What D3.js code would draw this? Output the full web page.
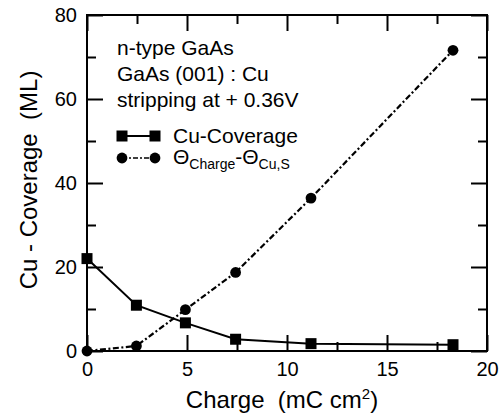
<!DOCTYPE html>
<html lang="en">
<meta charset="UTF-8">
<style>
    body { margin: 0; background: #fff; }
    svg { display: block; font-family: "Liberation Sans", Arial, Helvetica, sans-serif; }
    text { white-space: pre; }
    .frame { fill: none; stroke: #000; stroke-width: 2px; }
    .axis path { display: none; }
    .axis line { stroke: #000; stroke-width: 2px; }
    .axis text { font-size: 20px; fill: #000; font-family: "Liberation Sans", Arial, sans-serif; }
</style>
<body>
<svg id="chart" width="502" height="416"></svg>
<script src="https://d3js.org/d3.v7.min.js"></script>
<script>
// values
const charge = [0, 2.47, 4.92, 7.43, 11.2, 18.3];
const cuCoverage = [22.0, 10.9, 6.7, 2.8, 1.75, 1.5];
const thetaDiff = [0, 1.2, 9.85, 18.7, 36.4, 71.6];

const xMajor = [0, 5, 10, 15, 20];
const xMinor = [2.5, 7.5, 12.5, 17.5];
const yMajor = [0, 20, 40, 60, 80];
const yMinor = [10, 30, 50, 70];

const notes = ["n-type GaAs", "GaAs (001) : Cu", "stripping at + 0.36V"];

const svg = d3.select('#chart');
const margin = {top: 15, right: 15, bottom: 65, left: 87};
const width = 502 - margin.left - margin.right;
const height = 416 - margin.top - margin.bottom;

const x = d3.scaleLinear().domain([0, 20]).range([0, width]);
const y = d3.scaleLinear().domain([0, 80]).range([height, 0]);

const g = svg.append('g')
    .attr('transform', `translate(${margin.left},${margin.top})`);

// ticks point inward on all four sides
const major = 16, minor = 9;
g.append('g').attr('class', 'axis')
    .call(d3.axisLeft(y).tickValues(yMajor).tickSize(-major).tickPadding(10));
g.append('g').attr('class', 'axis')
    .call(d3.axisLeft(y).tickValues(yMinor).tickSize(-minor).tickFormat(''));
g.append('g').attr('class', 'axis')
    .attr('transform', `translate(${width},0)`)
    .call(d3.axisRight(y).tickValues(yMajor).tickSize(-major).tickFormat(''));
g.append('g').attr('class', 'axis')
    .attr('transform', `translate(${width},0)`)
    .call(d3.axisRight(y).tickValues(yMinor).tickSize(-minor).tickFormat(''));
g.append('g').attr('class', 'axis')
    .attr('transform', `translate(0,${height})`)
    .call(d3.axisBottom(x).tickValues(xMajor).tickSize(-major).tickPadding(11));
g.append('g').attr('class', 'axis')
    .attr('transform', `translate(0,${height})`)
    .call(d3.axisBottom(x).tickValues(xMinor).tickSize(-minor).tickFormat(''));
g.append('g').attr('class', 'axis')
    .call(d3.axisTop(x).tickValues(xMajor).tickSize(-major).tickFormat(''));
g.append('g').attr('class', 'axis')
    .call(d3.axisTop(x).tickValues(xMinor).tickSize(-minor).tickFormat(''));

g.append('rect').attr('class', 'frame')
    .attr('width', width).attr('height', height);

// series
const line = d3.line().x(d => x(d[0])).y(d => y(d[1]));
const covData = charge.map((c, i) => [c, cuCoverage[i]]);
const thData = charge.map((c, i) => [c, thetaDiff[i]]);

g.append('path').datum(thData)
    .attr('d', line)
    .attr('fill', 'none').attr('stroke', '#000').attr('stroke-width', 2.2)
    .attr('stroke-dasharray', '6,2.5,2,2.5');
g.append('path').datum(covData)
    .attr('d', line)
    .attr('fill', 'none').attr('stroke', '#000').attr('stroke-width', 2);

const sq = 11;
g.selectAll('rect.sq').data(covData).enter().append('rect')
    .attr('class', 'sq')
    .attr('x', d => x(d[0]) - sq / 2)
    .attr('y', d => y(d[1]) - sq / 2)
    .attr('width', sq).attr('height', sq)
    .attr('fill', '#000');
g.selectAll('circle.dot').data(thData).enter().append('circle')
    .attr('class', 'dot')
    .attr('cx', d => x(d[0]))
    .attr('cy', d => y(d[1]))
    .attr('r', 5.4)
    .attr('fill', '#000');

// annotation
g.selectAll('text.note').data(notes).enter().append('text')
    .attr('class', 'note')
    .attr('x', 30)
    .attr('y', (d, i) => 40 + i * 26)
    .attr('font-size', '21px')
    .text(d => d);

// legend
const lg = g.append('g').attr('transform', 'translate(35,121)');
lg.append('line').attr('x1', 0).attr('x2', 33).attr('y1', 0).attr('y2', 0)
    .attr('stroke', '#000').attr('stroke-width', 2);
lg.append('rect').attr('x', -sq / 2).attr('y', -sq / 2).attr('width', sq).attr('height', sq);
lg.append('rect').attr('x', 33 - sq / 2).attr('y', -sq / 2).attr('width', sq).attr('height', sq);
lg.append('text').attr('x', 51).attr('y', 7).attr('font-size', '21px').text('Cu-Coverage');

lg.append('line').attr('x1', 0).attr('x2', 33).attr('y1', 22).attr('y2', 22)
    .attr('stroke', '#000').attr('stroke-width', 1.6)
    .attr('stroke-dasharray', '5,2,2,2');
lg.append('circle').attr('cx', 0).attr('cy', 22).attr('r', 5.4);
lg.append('circle').attr('cx', 33).attr('cy', 22).attr('r', 5.4);
const t2 = lg.append('text').attr('x', 51).attr('y', 28).attr('font-size', '21px');
t2.append('tspan').text('\u0398');
t2.append('tspan').attr('font-size', '14px').attr('dy', 5).text('Charge');
t2.append('tspan').attr('dy', -5).text('-\u0398');
t2.append('tspan').attr('font-size', '14px').attr('dy', 5).text('Cu,S');

// axis titles
const xt = svg.append('text')
    .attr('x', margin.left + width / 2 - 5)
    .attr('y', 408)
    .attr('text-anchor', 'middle')
    .attr('font-size', '24px');
xt.append('tspan').text('Charge  (mC cm');
xt.append('tspan').attr('font-size', '15px').attr('dy', -9).text('2');
xt.append('tspan').attr('dy', 9).text(')');

svg.append('text')
    .attr('transform', `translate(37,${margin.top + height / 2 - 3}) rotate(-90)`)
    .attr('text-anchor', 'middle')
    .attr('font-size', '24px')
    .text('Cu - Coverage  (ML)');
</script>
</body>
</html>
